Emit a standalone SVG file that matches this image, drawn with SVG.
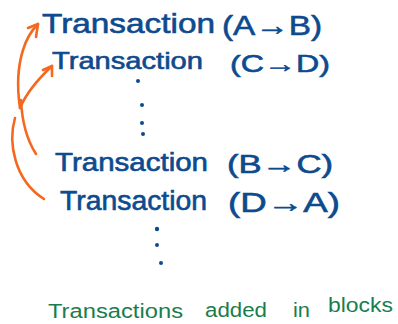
<svg xmlns="http://www.w3.org/2000/svg" width="398" height="324" viewBox="0 0 398 324">
  <style>
    .tx { font-family: "Liberation Sans", "DejaVu Sans", sans-serif; fill: #0d4a8e; stroke: #0d4a8e; stroke-width: 0.6; }
    .note { font-family: "Liberation Sans", "DejaVu Sans", sans-serif; fill: #1a7d4d; font-size: 20px; }
    .dot { fill: #0d4a8e; }
    .arrow { fill: none; stroke: #f4691f; stroke-width: 2.6; stroke-linecap: round; stroke-linejoin: round; }
  </style>
  <rect width="398" height="324" fill="#ffffff"/>

  <g id="tx-a-b">
    <text class="tx" font-size="28"><tspan x="42" y="33" textLength="173" lengthAdjust="spacingAndGlyphs">Transaction</tspan><tspan x="222" y="35" textLength="100" lengthAdjust="spacingAndGlyphs">(A→B)</tspan></text>
  </g>
  <g id="tx-c-d">
    <text class="tx" font-size="24"><tspan x="52" y="69" textLength="151" lengthAdjust="spacingAndGlyphs">Transaction</tspan><tspan x="230" y="72" textLength="100" lengthAdjust="spacingAndGlyphs">(C→D)</tspan></text>
  </g>
  <g id="dots-top">
    <circle class="dot" cx="138" cy="81" r="2"/>
    <circle class="dot" cx="142" cy="105" r="2"/>
    <circle class="dot" cx="142" cy="123" r="2"/>
    <circle class="dot" cx="143" cy="134" r="2"/>
  </g>
  <g id="tx-b-c">
    <text class="tx" font-size="25"><tspan x="55" y="171" textLength="153" lengthAdjust="spacingAndGlyphs">Transaction</tspan><tspan x="227" y="173" textLength="106" lengthAdjust="spacingAndGlyphs">(B→C)</tspan></text>
  </g>
  <g id="tx-d-a">
    <text class="tx" font-size="27"><tspan x="60" y="210" textLength="147" lengthAdjust="spacingAndGlyphs">Transaction</tspan><tspan x="228" y="212" textLength="112" lengthAdjust="spacingAndGlyphs">(D→A)</tspan></text>
  </g>
  <g id="dots-bottom">
    <circle class="dot" cx="157" cy="229" r="2.2"/>
    <circle class="dot" cx="157" cy="245" r="2"/>
    <circle class="dot" cx="161" cy="263" r="2"/>
  </g>
  <g id="caption">
    <text class="note"><tspan x="48" y="318" textLength="135" lengthAdjust="spacingAndGlyphs">Transactions</tspan><tspan x="205" y="317" textLength="62" lengthAdjust="spacingAndGlyphs">added</tspan><tspan x="293" y="317" textLength="17" lengthAdjust="spacingAndGlyphs">in</tspan><tspan x="328" y="312" textLength="65" lengthAdjust="spacingAndGlyphs">blocks</tspan></text>
  </g>

  <g id="connectors">
    <path class="arrow" d="M20,108 C17,88 18,66 23,50 C26,40 31,31 38,24"/>
    <path class="arrow" d="M28,28 L38,24 L36,37"/>
    <path class="arrow" d="M20,108 C25,96 35,82 52,66"/>
    <path class="arrow" d="M43,70 L52,66 L52,76"/>
    <path class="arrow" d="M21,100 C22,122 27,140 36,154"/>
    <path class="arrow" d="M15,118 C8,142 14,180 44,199"/>
  </g>
</svg>
